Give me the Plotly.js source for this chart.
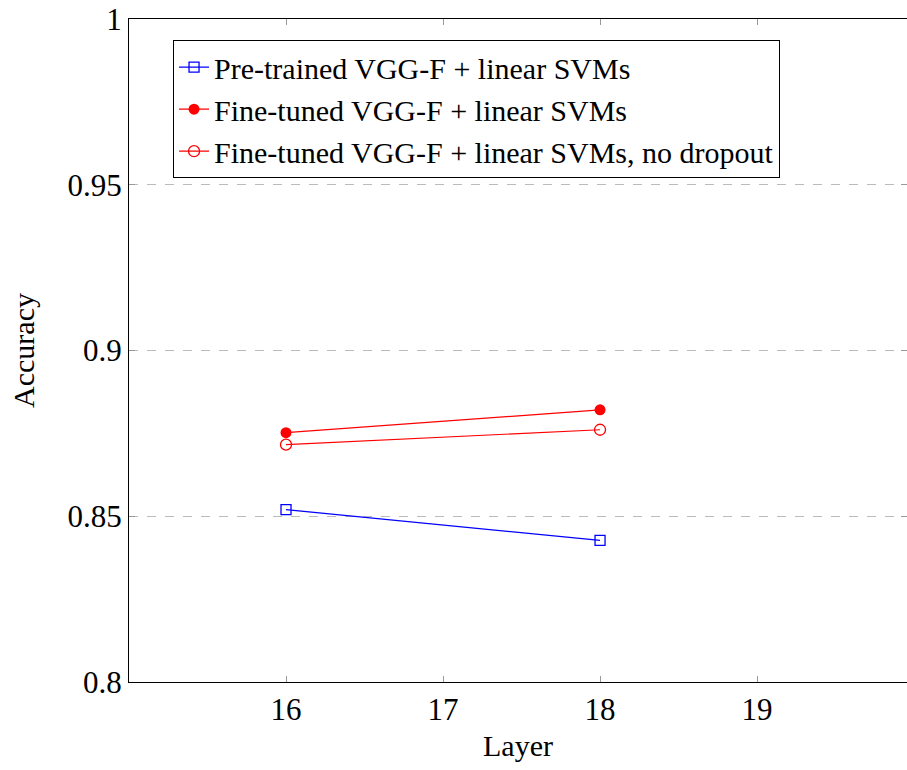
<!DOCTYPE html>
<html>
<head>
<meta charset="utf-8">
<script src="https://cdn.plot.ly/plotly-3.0.1.min.js"></script>
<style>html,body{margin:0;padding:0;background:#fff;}</style>
</head>
<body>
<div id="chart" style="width:907px;height:770px;"></div>
<script>
const layers = [16, 18];
const pretrained = [0.852, 0.8427];
const finetuned = [0.8752, 0.8821];
const finetunedNoDropout = [0.8716, 0.8761];
const seriesNames = [
  "Pre-trained VGG-F + linear SVMs",
  "Fine-tuned VGG-F + linear SVMs",
  "Fine-tuned VGG-F + linear SVMs, no dropout"
];
const xTicks = [16, 17, 18, 19];
const yTicks = [0.8, 0.85, 0.9, 0.95, 1];
const yTickLabels = ["0.8", "0.85", "0.9", "0.95", "1"];

const FAMILY = "Liberation Serif";

const traces = [
  {x: layers, y: pretrained, name: seriesNames[0], mode: "lines+markers",
   line: {color: "#0000ff", width: 1.2},
   marker: {symbol: "square-open", size: 10, color: "#0000ff", line: {width: 1.3}}},
  {x: layers, y: finetuned, name: seriesNames[1], mode: "lines+markers",
   line: {color: "#ff0000", width: 1.2},
   marker: {symbol: "circle", size: 11, color: "#ff0000"}},
  {x: layers, y: finetunedNoDropout, name: seriesNames[2], mode: "lines+markers",
   line: {color: "#ff0000", width: 1.2},
   marker: {symbol: "circle-open", size: 11, color: "#ff0000", line: {width: 1.3}}}
];

const layout = {
  width: 907, height: 770,
  margin: {l: 129, r: 0, t: 19, b: 88},
  paper_bgcolor: "#fff", plot_bgcolor: "#fff",
  font: {family: FAMILY, size: 30, color: "#000"},
  showlegend: true,
  legend: {
    x: 0.0566, y: 0.968, xanchor: "left", yanchor: "top",
    bgcolor: "#fff", bordercolor: "#000", borderwidth: 1,
    font: {family: FAMILY, size: 30, color: "#000"}
  },
  xaxis: {
    range: [15, 19.955], tickvals: xTicks, ticktext: xTicks.map(String),
    ticks: "inside", ticklen: 6, tickcolor: "#999", mirror: "ticks",
    showline: true, linecolor: "#000", linewidth: 1,
    showgrid: false, zeroline: false,
    tickfont: {family: FAMILY, size: 31, color: "#000"},
    title: {text: "Layer", font: {family: FAMILY, size: 30, color: "#000"}, standoff: 8}
  },
  yaxis: {
    range: [0.8, 1], tickvals: yTicks, ticktext: yTickLabels,
    ticks: "inside", ticklen: 6, tickcolor: "#999", mirror: "ticks",
    showline: true, linecolor: "#000", linewidth: 1,
    showgrid: true, gridcolor: "#bbb", griddash: "dash", gridwidth: 1,
    zeroline: false,
    tickfont: {family: FAMILY, size: 31, color: "#000"},
    title: {text: "Accuracy", font: {family: FAMILY, size: 30, color: "#000"}, standoff: 24}
  }
};

Plotly.newPlot("chart", traces, layout, {displayModeBar: false, staticPlot: true});
</script>
</body>
</html>
